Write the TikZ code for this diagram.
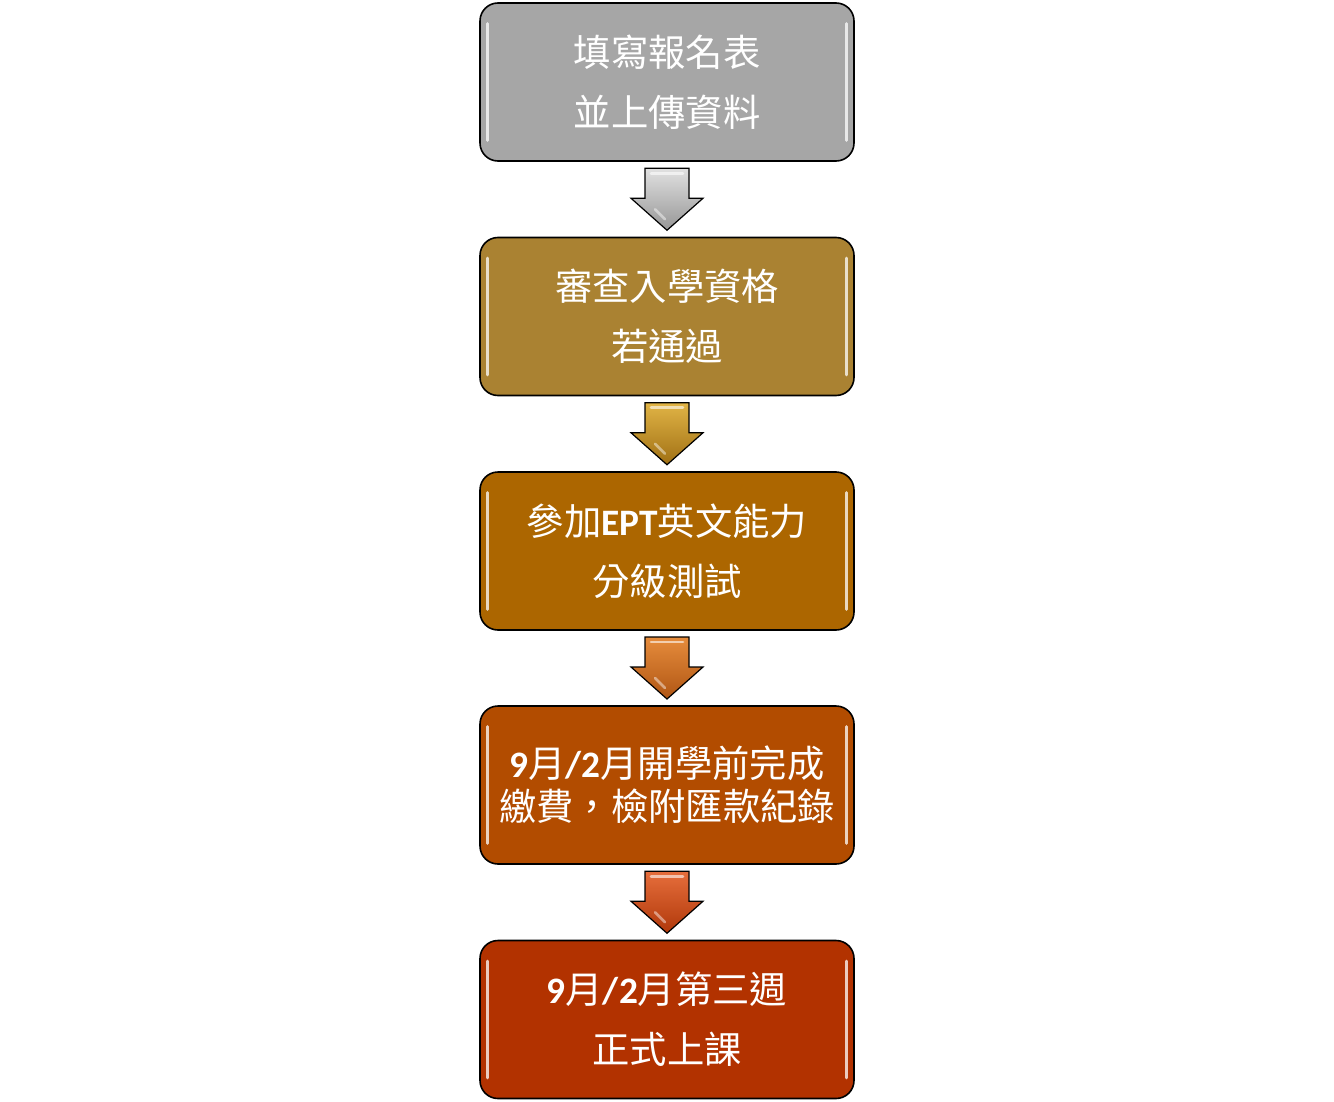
\documentclass[tikz,border=0pt]{standalone}
\usepackage{fontspec}
\usetikzlibrary{calc,shadings}
\newfontfamily\cjk{Noto Sans CJK TC}
\newfontfamily\carl{Carlito}
\newcommand\dig[1]{{\carl\bfseries #1}}
\definecolor{cA}{RGB}{166,166,166}
\definecolor{cB}{RGB}{170,130,50}
\definecolor{cC}{RGB}{172,102,0}
\definecolor{cD}{RGB}{178,76,0}
\definecolor{cE}{RGB}{178,50,0}
\definecolor{aA1}{RGB}{225,225,225}\definecolor{aA2}{RGB}{150,150,150}
\definecolor{aB1}{RGB}{225,180,70}\definecolor{aB2}{RGB}{160,112,20}
\definecolor{aC1}{RGB}{230,140,60}\definecolor{aC2}{RGB}{176,86,20}
\definecolor{aD1}{RGB}{230,110,60}\definecolor{aD2}{RGB}{176,56,10}
\tikzset{
  stepbox/.style={draw=black, line width=1.2pt, rounded corners=13.5pt,
    minimum width=280.5pt, minimum height=118.5pt, text=white, align=center,
    font=\cjk\fontsize{28pt}{45pt}\selectfont, inner sep=0pt},
  hl/.style={draw=white, line width=2.2pt, line cap=round, opacity=0.75},
  arr/.style={draw=black, line width=0.9pt, line join=miter},
}
\newcommand\hlights[1]{%
  \draw[hl] ([xshift=6pt,yshift=-16pt]#1.north west) -- ([xshift=6pt,yshift=16pt]#1.south west);
  \draw[hl] ([xshift=-6pt,yshift=-16pt]#1.north east) -- ([xshift=-6pt,yshift=16pt]#1.south east);}
\newcommand\darrow[4]{%
  \begin{scope}[shift={($(#1.south)!0.5!(#2.north)$)}]
    \draw[arr, top color=#3, bottom color=#4]
      (-22,-31) -- (22,-31) -- (22,-1) -- (36,-1) -- (0,31) -- (-36,-1) -- (-22,-1) -- cycle;
    \draw[white, opacity=0.6, line width=2pt, line cap=round] (-16,-26) -- (16,-26);
    \draw[white, opacity=0.45, line width=2pt, line cap=round] (-12,10) -- (-2,20);
  \end{scope}}
\begin{document}
\begin{tikzpicture}[x=0.75pt,y=-0.75pt]
\useasboundingbox (0,0) rectangle (1334,1102);
\node[stepbox, fill=cA] (b1) at (667,82) {填寫報名表\\並上傳資料};
\node[stepbox, fill=cB] (b2) at (667,316.5) {審查入學資格\\若通過};
\node[stepbox, fill=cC] (b3) at (667,551) {參加\dig{EPT}英文能力\\分級測試};
\node[stepbox, fill=cD, font=\cjk\fontsize{28pt}{32.5pt}\selectfont] (b4) at (667,785) {\dig{9}月\dig{/2}月開學前完成\\繳費，檢附匯款紀錄};
\node[stepbox, fill=cE] (b5) at (667,1019.5) {\dig{9}月\dig{/2}月第三週\\正式上課};
\hlights{b1}\hlights{b2}\hlights{b3}\hlights{b4}\hlights{b5}
\darrow{b1}{b2}{aA1}{aA2}
\darrow{b2}{b3}{aB1}{aB2}
\darrow{b3}{b4}{aC1}{aC2}
\darrow{b4}{b5}{aD1}{aD2}
\end{tikzpicture}
\end{document}
